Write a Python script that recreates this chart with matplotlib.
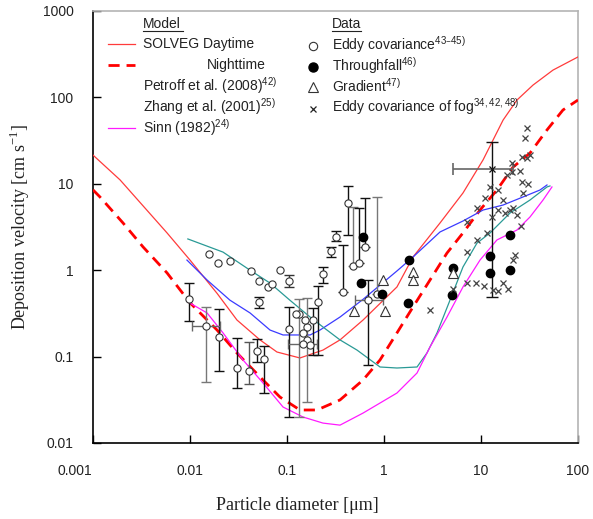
import matplotlib
matplotlib.use("Agg")
import matplotlib.pyplot as plt
from matplotlib.lines import Line2D
from matplotlib.transforms import ScaledTranslation
import numpy as np

# ---------------- model curves ----------------
day_x = [0.001, 0.0019, 0.0058, 0.01, 0.019, 0.0305, 0.0527, 0.0788, 0.136, 0.235,
         0.352, 0.608, 1.36, 1.99, 3.78, 6.52, 10.5, 16.9, 23.5, 34.4, 55.2, 100]
day_y = [21.5, 11.1, 2.70, 1.31, 0.54, 0.265, 0.156, 0.113, 0.0964, 0.119,
         0.156, 0.265, 0.64, 1.42, 3.52, 7.83, 18.9, 54.7, 93.3, 139, 207, 294]

night_x = [0.001, 0.00118, 0.00204, 0.00328, 0.0058, 0.01, 0.019, 0.0305, 0.0566, 0.0847,
           0.136, 0.204, 0.352, 0.608, 0.91, 1.36, 1.99, 2.98, 4.46, 6.52, 9.77,
           14.6, 21.4, 32.0, 47.9, 70.0, 100]
night_y = [8.5, 7.04, 3.52, 1.86, 0.93, 0.42, 0.203, 0.110, 0.0536, 0.034,
           0.0241, 0.0241, 0.0315, 0.0536, 0.0914, 0.188, 0.375, 0.77, 1.58, 2.70, 4.97,
           8.48, 15.6, 22.7, 42.0, 71.5, 93.3]

petroff_x = [0.0093, 0.015, 0.0258, 0.0416, 0.0668, 0.091, 0.173, 0.219, 0.352, 0.608,
             1.36, 1.99, 3.78, 6.52, 10.5, 16.9, 27.1, 40.6, 47.9]
petroff_y = [1.31, 0.77, 0.45, 0.32, 0.203, 0.178, 0.178, 0.203, 0.287, 0.46,
             0.98, 1.42, 2.77, 3.71, 4.97, 5.68, 7.04, 8.48, 9.69]

zhang_x = [0.0095, 0.0219, 0.0416, 0.0668, 0.107, 0.173, 0.235, 0.352, 0.527, 0.91,
           1.36, 2.19, 2.77, 3.52, 4.79, 6.52, 9.09, 12.4, 19.9, 32.0, 47.9, 51.4]
zhang_y = [2.30, 1.62, 1.0, 0.71, 0.45, 0.287, 0.22, 0.156, 0.119, 0.0758,
           0.0738, 0.0758, 0.110, 0.188, 0.45, 1.09, 2.06, 2.70, 4.59, 6.49, 9.19, 9.44]

sinn_x = [0.0095, 0.015, 0.0219, 0.0352, 0.0566, 0.091, 0.146, 0.235, 0.352, 0.608,
          1.36, 2.19, 2.98, 4.46, 6.52, 9.77, 14.6, 23.5, 32.0, 43.6, 53.9]
sinn_y = [0.43, 0.32, 0.188, 0.0914, 0.0495, 0.0261, 0.02, 0.017, 0.0161, 0.0222,
          0.0379, 0.0646, 0.129, 0.287, 0.64, 1.31, 2.24, 2.92, 4.13, 6.49, 9.19]

# ---------------- measurements ----------------
# eddy covariance with vertical error bars: x, y, lower, upper
ec_err_x = [0.0098, 0.0146, 0.0199, 0.0305, 0.0406, 0.0491, 0.058, 0.0514, 0.105,
            0.105, 0.133, 0.161, 0.185, 0.209, 0.235, 0.284, 0.320, 0.425,
            0.479, 0.552, 0.637, 0.378, 0.847, 0.684]
ec_err_y = [0.46, 0.226, 0.169, 0.0738, 0.068, 0.116, 0.0938, 0.43, 0.75,
            0.209, 0.311, 0.22, 0.265, 0.43, 0.90, 1.67, 2.42, 5.99,
            1.12, 1.21, 1.86, 0.56, 0.53, 0.45]
ec_err_lo = [0.258, 0.0508, 0.068, 0.0433, 0.0482, 0.0867, 0.0379, 0.365, 0.64,
             0.02, 0.02, 0.0298, 0.104, 0.104, 0.71, 1.42, 2.18, 2.55,
             1.12, 1.21, 1.86, 0.56, 0.53, 0.08]
ec_err_hi = [0.71, 0.375, 0.355, 0.164, 0.148, 0.16, 0.133, 0.49, 0.87,
             0.375, 0.46, 0.48, 0.365, 0.66, 1.09, 1.86, 2.84, 9.44,
             5.39, 5.25, 6.85, 1.96, 7.04, 0.77]
ec_err_col = ['#111', '#777', '#111', '#111', '#555', '#111', '#111', '#111', '#333',
              '#111', '#777', '#777', '#111', '#111', '#111', '#111', '#111', '#111',
              '#777', '#111', '#111', '#111', '#777', '#111']

# eddy covariance with horizontal error bars: x, y, left, right
ec_herr_x = [0.0146, 0.146, 0.684]
ec_herr_y = [0.226, 0.14, 0.45]
ec_herr_lo = [0.0105, 0.102, 0.502]
ec_herr_hi = [0.0204, 0.204, 0.977]

# eddy covariance without error bars
ec_x = [0.0157, 0.0195, 0.0258, 0.0426, 0.0514, 0.0637, 0.070, 0.0847,
        0.124, 0.146, 0.153, 0.161, 0.173, 0.146]
ec_y = [1.54, 1.21, 1.28, 0.98, 0.75, 0.64, 0.69, 1.0,
        0.311, 0.188, 0.265, 0.156, 0.136, 0.14]

# throughfall
tf_x = [0.608, 0.58, 0.953, 1.81, 1.77, 5.14, 5.02, 12.4, 12.4, 19.9, 19.9]
tf_y = [2.42, 0.71, 0.53, 1.31, 0.42, 1.06, 0.52, 1.46, 0.93, 2.55, 1.0]

# gradient
gr_x = [0.491, 0.977, 1.02, 1.99, 1.99, 5.14]
gr_y = [0.337, 0.77, 0.337, 0.95, 0.77, 0.93]

# eddy covariance of fog
fog_x = [7.17, 7.17, 7.17, 8.88, 10.7, 13.3, 15.0, 16.9, 19.0, 21.4, 22.4,
         11.5, 13.0, 15.0, 17.7, 19.9, 21.4, 23.5, 25.8, 9.09, 11.0, 12.4,
         15.0, 16.9, 27.1, 26.5, 30.5, 20.9, 18.5, 25.2, 20.9, 26.5, 32.0,
         29.8, 28.4, 29.8, 9.09, 5.14, 2.98]
fog_y = [3.61, 1.62, 0.71, 0.71, 0.66, 0.59, 0.57, 0.71, 0.61, 1.31, 1.50,
         2.70, 4.13, 4.97, 4.59, 4.97, 5.25, 4.35, 3.25, 5.25, 6.85, 9.19,
         8.48, 6.49, 7.83, 10.5, 9.95, 13.7, 12.7, 14.1, 17.4, 20.4, 21.5,
         19.9, 33.9, 44.2, 2.24, 0.61, 0.346]

# fog mean value with spread
fogm_x, fogm_y = 13.0, 14.8
fogm_ylo, fogm_yhi = 0.49, 30.5
fogm_xlo, fogm_xhi = 5.14, 21.4

xticks = [0.001, 0.01, 0.1, 1, 10, 100]
xtick_labels = ['0.001', '0.01', '0.1', '1', '10', '100']
yticks = [0.01, 0.1, 1, 10, 100, 1000]
ytick_labels = ['0.01', '0.1', '1', '10', '100', '1000']

# ---------------- figure ----------------
W, H = 593, 519
fig = plt.figure(figsize=(W / 100, H / 100), dpi=100)
L, R, T, B = 93, 578, 11, 443
ax = fig.add_axes([L / W, 1 - B / H, (R - L) / W, (B - T) / H])
ax.set_xscale('log')
ax.set_yscale('log')
ax.set_xlim(0.001, 100)
ax.set_ylim(0.01, 1000)

sans = ['Liberation Sans', 'DejaVu Sans']
serif = ['Liberation Serif', 'DejaVu Serif']
txtcol = '#222222'

ax.plot(day_x, day_y, color='#ff3b3b', lw=0.9, zorder=3)
ax.plot(night_x, night_y, color='#ff0000', lw=2.0, dashes=(4, 2.5), zorder=3)
ax.plot(petroff_x, petroff_y, color='#3b3bff', lw=0.9, zorder=3)
ax.plot(zhang_x, zhang_y, color='#2a9a96', lw=0.9, zorder=3)
ax.plot(sinn_x, sinn_y, color='#ff1aff', lw=0.9, zorder=3)

# error bars
for x, y, lo, hi, c in zip(ec_err_x, ec_err_y, ec_err_lo, ec_err_hi, ec_err_col):
    ax.errorbar([x], [y], yerr=[[y - lo], [hi - y]], fmt='none', ecolor=c,
                elinewidth=1.0, capsize=3.5, capthick=1.0, zorder=4)
for x, y, lo, hi in zip(ec_herr_x, ec_herr_y, ec_herr_lo, ec_herr_hi):
    ax.errorbar([x], [y], xerr=[[x - lo], [hi - x]], fmt='none', ecolor='#666',
                elinewidth=1.0, capsize=3.5, capthick=1.0, zorder=4)
ax.errorbar([fogm_x], [fogm_y], yerr=[[fogm_y - fogm_ylo], [fogm_yhi - fogm_y]],
            fmt='none', ecolor='#111', elinewidth=1.0, capsize=4, capthick=1.0, zorder=4)
ax.errorbar([fogm_x], [fogm_y], xerr=[[fogm_x - fogm_xlo], [fogm_xhi - fogm_x]],
            fmt='none', ecolor='#666', elinewidth=1.2, capsize=4, capthick=1.2, zorder=4)

circ = dict(marker='o', ms=5.2, mfc='white', mec='#333', mew=0.8, ls='none', zorder=5)
ax.plot(ec_err_x, ec_err_y, **circ)
ax.plot(ec_x, ec_y, **circ)
ax.plot(tf_x, tf_y, marker='o', ms=6, mfc='black', mec='black', ls='none', zorder=5)
ax.plot(gr_x, gr_y, marker='^', ms=7, mfc='white', mec='#333', mew=0.8, ls='none', zorder=5)
ax.plot(fog_x, fog_y, marker='x', ms=5, mec='#444', mew=0.9, ls='none', zorder=5)
ax.plot([fogm_x], [fogm_y], marker='x', ms=5, mec='#111', mew=0.9, ls='none', zorder=5)

# axes styling
for s in ('left', 'bottom'):
    ax.spines[s].set_color('black')
    ax.spines[s].set_linewidth(1.2)
for s in ('top', 'right'):
    ax.spines[s].set_color('#b4b4b4')
    ax.spines[s].set_linewidth(1.2)
ax.minorticks_off()
ax.set_xticks(xticks)
ax.set_xticklabels(xtick_labels)
ax.set_yticks(yticks)
ax.set_yticklabels(ytick_labels)
ax.tick_params(axis='both', which='major', direction='in', length=6, width=1.0,
               colors='black', labelcolor=txtcol, labelsize=10)
ax.tick_params(axis='x', pad=15)
ax.tick_params(axis='y', pad=14)
for lab in ax.get_xticklabels() + ax.get_yticklabels():
    lab.set_fontfamily(sans)
first = ax.get_xticklabels()[0]
first.set_transform(first.get_transform() + ScaledTranslation(-0.18, 0, fig.dpi_scale_trans))

ax.set_xlabel('Particle diameter [\u03bcm]', fontfamily=serif, fontsize=13, color=txtcol)
ax.xaxis.set_label_coords((297 - L) / (R - L), -(505 - B) / (B - T))
ax.xaxis.label.set_va('center')
ax.set_ylabel('Deposition velocity [cm s$^{\\mathregular{-1}}$]', fontfamily=serif,
              fontsize=13, color=txtcol)
ax.yaxis.set_label_coords(-(L - 20) / (R - L), 0.5)
ax.yaxis.label.set_va('center')


# ---------------- legend block ----------------
def P(px, py):
    return ((px - L) / (R - L), (B - py) / (B - T))


def label(px, py, s, **kw):
    ax.text(*P(px, py), s, transform=ax.transAxes, ha='left', va='center',
            fontfamily=sans, fontsize=10, color=txtcol, **kw)


def sample(py, **kw):
    (x0, y0), (x1, _) = P(108, py), P(135, py)
    ax.add_line(Line2D([x0, x1], [y0, y0], transform=ax.transAxes, **kw))


def marker(py, **kw):
    ax.plot(*P(313, py), transform=ax.transAxes, ls='none', **kw)


def underline(px0, px1, py):
    (x0, y0), (x1, _) = P(px0, py), P(px1, py)
    ax.add_line(Line2D([x0, x1], [y0, y0], transform=ax.transAxes, color=txtcol, lw=0.8))


label(143, 24, 'Model')
underline(143, 183, 31)
label(143, 44, 'SOLVEG Daytime')
sample(44, color='#ff3b3b', lw=0.9)
label(207, 65, 'Nighttime')
sample(65, color='#ff0000', lw=2.0, dashes=(4, 2.5))
label(143, 86, 'Petroff et al. (2008)$^{\\mathregular{42)}}$')
label(143, 107, 'Zhang et al. (2001)$^{\\mathregular{25)}}$')
label(143, 128, 'Sinn (1982)$^{\\mathregular{24)}}$')
sample(128, color='#ff1aff', lw=0.9)

label(332, 24, 'Data')
underline(332, 361, 31)
label(332, 45, 'Eddy covariance$^{\\mathregular{43\u201345)}}$')
marker(46, marker='o', ms=6, mfc='white', mec='#333', mew=0.8)
label(332, 66, 'Throughfall$^{\\mathregular{46)}}$')
marker(67, marker='o', ms=6.5, mfc='black', mec='black')
label(332, 86, 'Gradient$^{\\mathregular{47)}}$')
marker(87, marker='^', ms=7.5, mfc='white', mec='#333', mew=0.8)
label(332, 107, 'Eddy covariance of fog$^{\\mathregular{34,42,48)}}$')
marker(109, marker='x', ms=5, mec='#222', mew=0.9)

fig.savefig('out.png', dpi=100)
